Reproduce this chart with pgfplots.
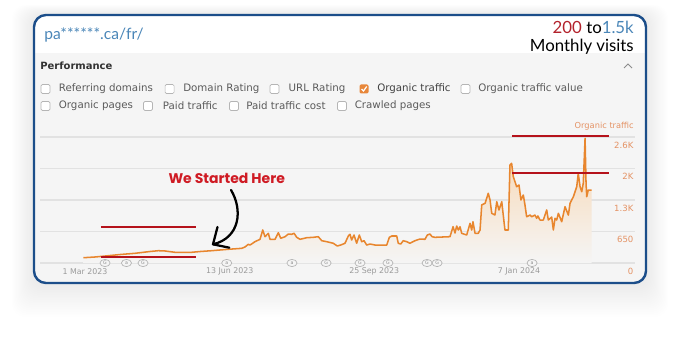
\documentclass[border=0pt]{standalone}
\usepackage{fontspec}
\usepackage{pgfplots}
\pgfplotsset{compat=1.18}
\setmainfont{DejaVu Sans}
\newfontfamily\lato{Lato}
\newfontfamily\poppins{Poppins}
\definecolor{panel}{HTML}{F5F5F5}
\definecolor{cardblue}{HTML}{1C4E8A}
\definecolor{headblue}{HTML}{4A86B8}
\definecolor{darkred}{HTML}{B3222C}
\definecolor{lineorange}{HTML}{E8862E}
\definecolor{fillpeach}{HTML}{F8D5AF}
\definecolor{tickorange}{HTML}{E49264}
\definecolor{gridgray}{HTML}{E2E2E2}
\definecolor{annred}{HTML}{B5121B}
\definecolor{startred}{HTML}{CF1B24}
\definecolor{boxgray}{HTML}{B5B5B5}
\definecolor{cbtext}{HTML}{5A5A5A}
\definecolor{datetext}{HTML}{9A9A9A}
\definecolor{checkorange}{HTML}{E8873A}

\pgfplotstableread{
day value
-1.2 109
7.2 124
14.4 144
25.2 175
35.9 200
46.7 237
52.7 254
57.5 248
64.7 221
76.7 221
82.7 237
91.1 254
103.0 283
112.7 303
115.0 330
117.4 386
118.6 371
122.2 440
125.8 489
127.8 681
129.4 543
131.8 613
133.0 489
136.6 489
139.0 625
140.7 510
143.8 543
146.2 598
148.6 592
150.3 613
152.2 530
154.6 489
159.4 522
164.1 530
167.7 543
170.2 460
173.8 440
178.5 407
181.4 351
183.8 371
186.9 407
189.3 557
190.5 592
191.7 475
193.4 578
195.3 407
197.2 578
198.9 440
200.6 460
202.5 371
204.9 392
208.5 371
213.3 371
216.9 371
218.8 530
220.5 557
224.1 557
225.2 407
227.0 392
228.8 460
231.3 440
233.6 407
237.2 460
240.8 495
244.4 489
246.1 578
248.0 598
249.5 543
251.6 530
262.4 543
264.6 749
266.0 619
267.2 763
268.4 681
269.6 749
270.8 613
274.4 578
276.8 819
278.0 681
278.9 852
280.4 613
282.7 613
284.0 681
285.2 1197
287.6 1232
289.9 1438
291.2 1300
292.4 1026
294.7 990
296.0 1265
297.6 1094
299.6 1265
301.9 681
304.3 681
305.5 2022
306.7 2057
307.9 1781
310.3 1574
312.0 1610
313.4 1300
315.1 1403
316.3 1197
317.5 955
319.9 990
321.1 955
323.5 990
324.7 922
325.6 970
327.1 887
329.5 887
331.9 1094
333.1 887
335.5 949
336.7 681
337.9 922
339.1 887
340.3 1026
342.7 852
345.1 1162
347.5 990
348.7 1232
351.1 1368
353.5 1574
354.6 1851
355.9 1574
357.1 1471
358.2 1645
359.5 2573
360.2 1645
360.7 1368
361.8 1506
364.2 1506
}\traffic

\newcommand{\cb}[2]{\draw[boxgray, fill=white, rounded corners=1pt, line width=0.5pt] ({#1-4.5},{#2-4.5}) rectangle ({#1+4.5},{#2+4.5});}
\newcommand{\cblabel}[3]{\node[anchor=west, inner sep=0, text=cbtext, font=\fontsize{7.7}{9}\selectfont] at (#1,#2) {#3};}

\begin{document}
\begin{tikzpicture}[x=0.75pt,y=0.75pt]
\useasboundingbox (0,0) rectangle (680,336);
% soft shadow
\foreach \i in {1,...,20}{
  \fill[black, opacity=0.0045, rounded corners=10pt] ({34-\i*1.1},{53-\i*1.7}) rectangle ({646+\i*1.1},{321+\i*0.5});
}
% card
\fill[white, rounded corners=9pt] (34,53) rectangle (646,321);
\begin{scope}
\clip[rounded corners=9pt] (34,53) rectangle (646,321);
\fill[panel] (34,40) rectangle (646,283);
\end{scope}
\draw[cardblue, line width=1.8pt, rounded corners=9pt] (34,53) rectangle (646,321);

% header
\node[anchor=west, inner sep=0, text=headblue, font=\lato\fontsize{11.7}{13}\selectfont] at (44,301) {pa******.ca/fr/};
\node[anchor=east, inner sep=0, font=\lato\fontsize{12.6}{14}\selectfont] at (634,308.5) {\textcolor{darkred}{200} to\textcolor{headblue}{1.5k}};
\node[anchor=east, inner sep=0, font=\lato\fontsize{12.6}{14}\selectfont] at (634,289.5) {Monthly visits};

% performance
\node[anchor=west, inner sep=0, text=black!80, font=\bfseries\fontsize{7.5}{9}\selectfont] at (40,270) {Performance};
\draw[black!45, line width=0.7pt] (624,268) -- (628,272) -- (632,268);

% checkboxes row 1
\cb{45.5}{247}\cblabel{58.6}{247}{Referring domains}
\cb{169.6}{247}\cblabel{183}{247}{Domain Rating}
\cb{274.5}{247}\cblabel{288.4}{247}{URL Rating}
\fill[checkorange, rounded corners=1pt] (359.5,242.5) rectangle (368.5,251.5);
\draw[white, line width=0.9pt] (361.5,247) -- (363.5,245) -- (366.7,249.5);
\node[anchor=west, inner sep=0, text=black!75, font=\fontsize{7.7}{9}\selectfont] at (377,247) {Organic traffic};
\cb{465.5}{247}\cblabel{478}{247}{Organic traffic value}
% row 2
\cb{45.5}{230}\cblabel{58.6}{230}{Organic pages}
\cb{148}{230}\cblabel{162.6}{230}{Paid traffic}
\cb{234}{230}\cblabel{246}{230}{Paid traffic cost}
\cb{342}{230}\cblabel{354.5}{230}{Crawled pages}

\node[anchor=east, inner sep=0, text=tickorange, font=\fontsize{6.2}{7}\selectfont] at (634,210) {Organic traffic};

\begin{axis}[
  at={(30pt,54.75pt)}, anchor=south west, scale only axis,
  width=446.25pt, height=107.25pt,
  xmin=-32.35, xmax=395.4, ymin=0, ymax=2951,
  axis line style={draw=none}, tick style={draw=none},
  ytick={0,650,1300,1950,2600}, yticklabels={0,650,1.3K,2K,2.6K},
  ymajorgrids, grid style={color=gridgray, line width=0.8pt},
  yticklabel pos=right,
  yticklabel style={anchor=north east, inner sep=0pt, xshift=-1pt, yshift=-3.5pt, text=tickorange, font=\fontsize{6.4}{7}\selectfont},
  xtick={0,104,208,312},
  xticklabels={1 Mar 2023, 13 Jun 2023, 25 Sep 2023, 7 Jan 2024},
  xticklabel style={anchor=center, inner sep=0pt, yshift=-6.4pt, text=datetext, font=\fontsize{5.9}{7}\selectfont},
  clip=false,
]
\addplot[draw=none, top color=fillpeach, bottom color=panel] table[x=day,y=value] {\traffic} \closedcycle;
\addplot[lineorange, line width=1.15pt, line join=round] table[x=day,y=value] {\traffic};
% annotation markers
\foreach \d/\l in {14.4/G, 29.8/a, 41.7/G, 101.9/a, 148.8/a, 173.3/G, 197.7/G, 217.8/G, 245.9/G, 253.1/G, 321.4/a}{
  \edef\tmp{\noexpand\draw[black!30, fill=panel, line width=0.5pt] (axis cs:\d,0) ellipse [x radius=3.8pt, y radius=2.7pt];
  \noexpand\node[inner sep=0, text=black!45, font=\noexpand\fontsize{3.5}{4}\noexpand\selectfont] at (axis cs:\d,0) {\l};}
  \tmp
}
% red annotation lines
\draw[annred, line width=1.6pt] (axis cs:11.5,737) -- (axis cs:79.8,737);
\draw[annred, line width=1.6pt] (axis cs:11.5,130) -- (axis cs:79.8,130);
\draw[annred, line width=1.6pt] (axis cs:307.2,2621) -- (axis cs:376.9,2621);
\draw[annred, line width=1.6pt] (axis cs:307.2,1851) -- (axis cs:376.9,1851);
\end{axis}

% We started here
\node[text=startred, font=\poppins\bfseries\fontsize{10.5}{12}\selectfont, inner sep=0] at (226.7,157.7) {We Started Here};
\draw[black, line width=1.7pt, line cap=round] (231,146) .. controls (243,126) and (240,98) .. (213,91.7);
\draw[black, line width=1.7pt, line cap=round, line join=round] (217.5,109) -- (213,91.7) -- (229.3,88.3);
\end{tikzpicture}
\end{document}
